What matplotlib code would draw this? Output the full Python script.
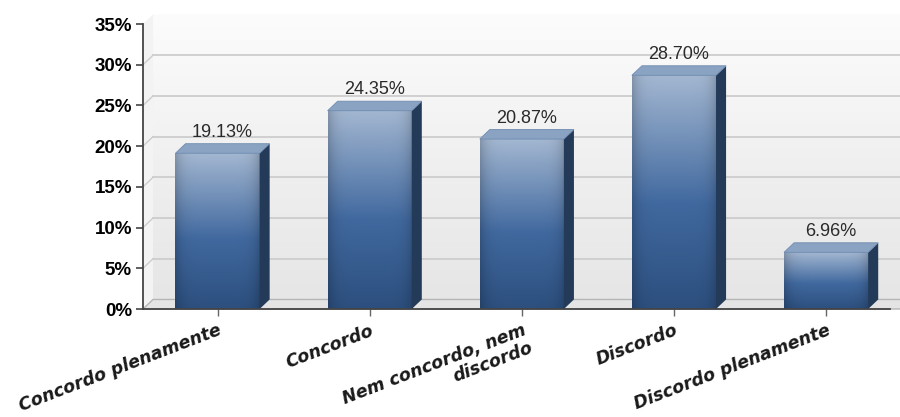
import numpy as np
import matplotlib
matplotlib.use("Agg")
import matplotlib.pyplot as plt
from matplotlib.patches import Polygon
from matplotlib.colors import to_rgb

categorias = ["Concordo plenamente", "Concordo", "Nem concordo, nem\ndiscordo",
              "Discordo", "Discordo plenamente"]
valores = [19.13, 24.35, 20.87, 28.70, 6.96]
yticks = [0, 5, 10, 15, 20, 25, 30, 35]
ytick_labels = ["0%", "5%", "10%", "15%", "20%", "25%", "30%", "35%"]

fig = plt.figure(figsize=(9, 4.17), dpi=100)
ax = fig.add_axes([143 / 900, 108 / 417, 747 / 900, 285 / 417])
ax.set_facecolor("none")

xl, xr = -0.49, 4.42
ymax = 35
dx, dy = 0.066, 1.17   # profundidade 3D em unidades de dados
largura = 0.553


def gradiente(c_baixo, c_meio, c_cima, n=200):
    # coluna de cores de baixo para cima
    a, b, c = np.array(to_rgb(c_baixo)), np.array(to_rgb(c_meio)), np.array(to_rgb(c_cima))
    t = np.linspace(0, 1, n)[:, None]
    meio = 0.45
    col = np.where(t < meio, a + (b - a) * (t / meio), b + (c - b) * ((t - meio) / (1 - meio)))
    return col


# parede do fundo
parede = gradiente("#e6e6e6", "#efefef", "#fcfcfc")[:, None, :].repeat(2, axis=1)
ax.imshow(parede, extent=(xl + dx, xr + dx * 2, dy, ymax + dy), origin="lower",
          aspect="auto", zorder=0, clip_on=False)
# parede lateral
ax.add_patch(Polygon([(xl, 0), (xl + dx, dy), (xl + dx, ymax + dy), (xl, ymax)],
                     closed=True, facecolor="#f3f3f3", edgecolor="none", zorder=0.5, clip_on=False))
# chão
ax.add_patch(Polygon([(xl, 0), (xr + dx, 0), (xr + dx * 2, dy), (xl + dx, dy)],
                     closed=True, facecolor="#e4e4e4", edgecolor="#b5b5b5", lw=1.0,
                     zorder=1, clip_on=False))

# linhas de grade
for v in yticks[1:-1]:
    ax.plot([xl + dx, xr + dx * 2], [v + dy, v + dy], color="#cdcdcd", lw=1.3, zorder=0.8, clip_on=False)
    ax.plot([xl, xl + dx], [v, v + dy], color="#cdcdcd", lw=1.0, zorder=0.8, clip_on=False)

# barras
cores = gradiente("#2c4f7e", "#41699f", "#a3b7d1")
u = np.linspace(0, 1, 60)
fator = 1 - 0.18 * np.abs(2 * u - 1) ** 6
for i, v in enumerate(valores):
    x0 = i - largura / 2
    x1 = i + largura / 2
    img = cores[:, None, :] * fator[None, :, None]
    ax.imshow(np.clip(img, 0, 1), extent=(x0, x1, 0, v), origin="lower", aspect="auto",
              zorder=3, clip_on=False)
    ax.add_patch(Polygon([(x1, 0), (x1 + dx, dy), (x1 + dx, v + dy), (x1, v)], closed=True,
                         facecolor="#233a59", edgecolor="none", zorder=3, clip_on=False))
    ax.add_patch(Polygon([(x0, v), (x1, v), (x1 + dx, v + dy), (x0 + dx, v + dy)], closed=True,
                         facecolor="#8aa3c3", edgecolor="#6f8bb0", lw=0.6, zorder=3, clip_on=False))
    ax.text(i + dx / 2, v + dy + 0.35, "{:.2f}%".format(v), ha="center", va="bottom",
            fontsize=13, family="Liberation Sans", color="#2a2a2a", zorder=4)

ax.set_xlim(xl, xr)
ax.set_ylim(0, ymax)

ax.spines["top"].set_visible(False)
ax.spines["right"].set_visible(False)
ax.spines["left"].set_color("#444444")
ax.spines["bottom"].set_color("#444444")
ax.spines["left"].set_linewidth(1.3)
ax.spines["bottom"].set_linewidth(1.3)
ax.spines["left"].set_zorder(5)
ax.spines["bottom"].set_zorder(5)

ax.set_yticks(yticks)
ax.set_yticklabels(ytick_labels, fontsize=13.5, fontweight="bold",
                   family=["Liberation Sans Narrow", "Liberation Sans"])
ax.tick_params(axis="y", length=5, width=1.2, color="#444444", pad=3)

ax.set_xticks(range(len(categorias)))
ax.set_xticklabels(categorias, rotation=21, ha="right", rotation_mode="anchor",
                   fontsize=12.5, fontweight="bold", fontstyle="oblique", family="DejaVu Sans",
                   color="#1a1a1a", linespacing=1.05)
ax.tick_params(axis="x", length=5, width=1.0, color="#666666", pad=4)

fig.savefig("out.png", dpi=100)
